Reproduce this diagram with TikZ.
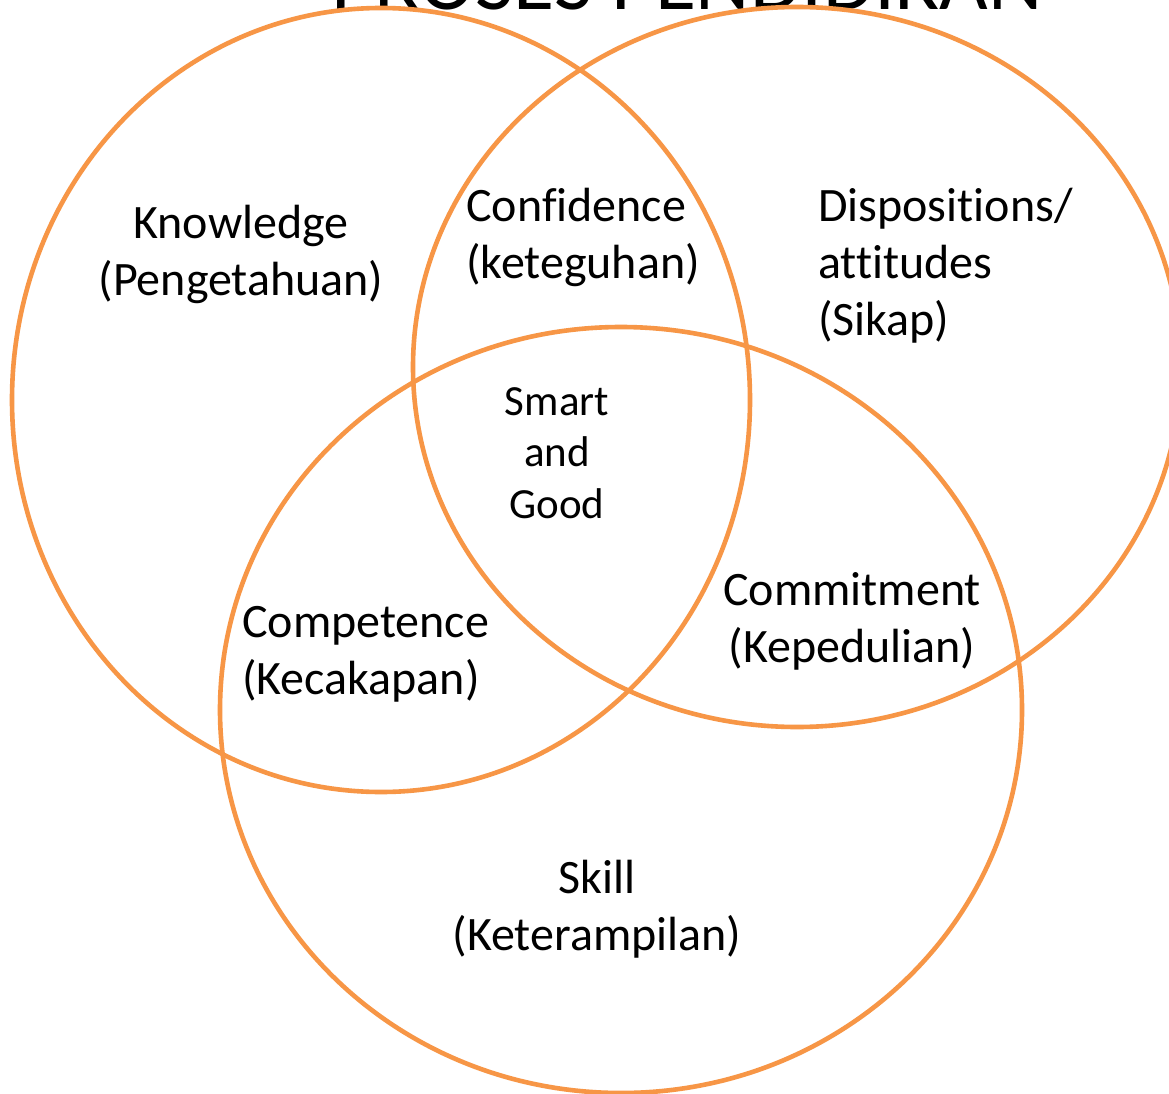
\documentclass[tikz,border=0pt]{standalone}
\usepackage{fontspec}
\setmainfont{Carlito}[Ligatures=NoCommon]
\usetikzlibrary{shapes.geometric}
\definecolor{vorange}{HTML}{F79646}
\tikzset{
  venn/.style={ellipse, draw=vorange, line width=4.6pt, inner sep=0pt},
  lbl/.style={font=\fontsize{48}{57}\selectfont, inner sep=0pt, text=black},
  lblsmall/.style={font=\fontsize{43}{51.5}\selectfont, inner sep=0pt, text=black, align=center},
}
\begin{document}
\begin{tikzpicture}[x=1pt,y=-1pt]
\useasboundingbox (0,0) rectangle (1169,1094);
\clip (0,0) rectangle (1169,1094);
\fill[white] (0,0) rectangle (1169,1094);
\node[font=\fontsize{84}{100}\selectfont, anchor=base, inner sep=0pt] (title) at (687,10) {PROSES PENDIDIKAN};
\node[venn, minimum width=738pt, minimum height=784pt] (kn) at (381,400) {};
\node[venn, minimum width=768pt, minimum height=720pt] (di) at (797,367) {};
\node[venn, minimum width=802pt, minimum height=766pt] (sk) at (621,710) {};
\node[lbl, align=center] (knl) at (241,254) {Knowledge\\(Pengetahuan)};
\node[lbl, align=left, anchor=west] (cfl) at (466,237) {Confidence\\(keteguhan)};
\node[lbl, align=left, anchor=west] (dil) at (818,266) {Dispositions/\\attitudes\\(Sikap)};
\node[lblsmall] (sg) at (557,453) {Smart\\and\\Good};
\node[lbl, align=center] (cml) at (852,621) {Commitment\\(Kepedulian)};
\node[lbl, align=left, anchor=west] (cpl) at (242,654) {Competence\\(Kecakapan)};
\node[lbl, align=center] (skl) at (597,909) {Skill\\(Keterampilan)};
\end{tikzpicture}
\end{document}
